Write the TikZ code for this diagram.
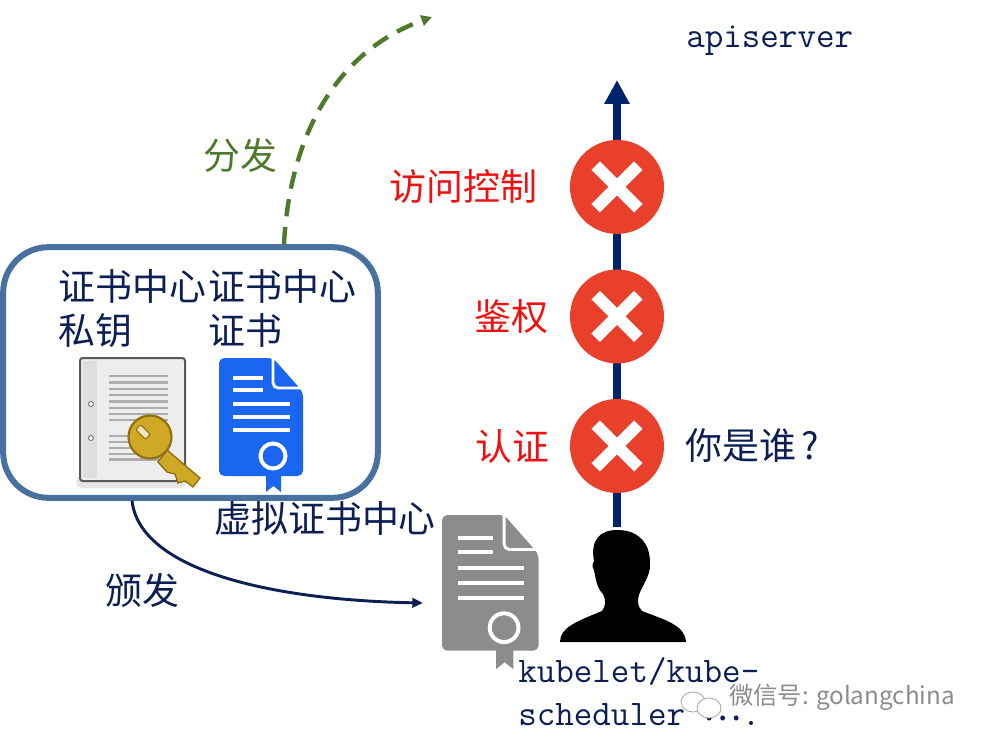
\documentclass[tikz,border=0pt]{standalone}
\usepackage{fontspec}
\usepackage{xcolor}
\usetikzlibrary{arrows.meta,positioning,calc,backgrounds}
\newfontfamily\cjk{Noto Sans CJK SC}
\definecolor{cNavy}{HTML}{0B1F55}
\definecolor{cLine}{HTML}{00246B}
\definecolor{cRed}{HTML}{E8402B}
\definecolor{cLabel}{HTML}{F01010}
\definecolor{cGreen}{HTML}{4F7A2C}
\definecolor{cFrame}{HTML}{48719F}
\definecolor{cBlue}{HTML}{1A66F0}
\definecolor{cGray}{HTML}{8C8C8C}
\definecolor{cGold}{HTML}{CFA825}
\definecolor{cGoldD}{HTML}{8F6E12}
\tikzset{
  cntext/.style={inner sep=0pt,text=cNavy,align=left,
              font=\cjk\fontsize{27.7}{33}\selectfont},
  alarm/.style={cntext,text=cLabel},
  latin/.style={inner sep=0pt,text=cNavy,align=left,
              font=\ttfamily\fontsize{27}{32.5}\selectfont},
  caframe/.style={draw=cFrame,line width=4.5pt,rounded corners=34pt,
              minimum width=281pt,minimum height=188pt,inner sep=0pt},
  slot/.style={inner sep=0pt,minimum width=#1},
  badge/.style={circle,fill=cRed,inner sep=0pt,minimum size=70.5pt,
    path picture={
      \draw[white,line width=9pt]
        ($(path picture bounding box.center)+(-16pt,-16pt)$)--
        ($(path picture bounding box.center)+(16pt,16pt)$)
        ($(path picture bounding box.center)+(-16pt,16pt)$)--
        ($(path picture bounding box.center)+(16pt,-16pt)$);}},
  mainarrow/.style={-{Triangle[length=18pt,width=18pt]},line width=6pt,cLine},
  sendarrow/.style={-{Triangle[length=8pt,width=8pt]},line width=3.3pt,cGreen,
              dash pattern=on 13pt off 8pt},
  issuearrow/.style={-{Triangle[length=8pt,width=7pt]},line width=2.2pt,cNavy},
  pics/certdoc/.style={code={
    \fill[#1,rounded corners=4pt] (0,0)--(54,0)--(84,34)--(84,118)--(0,118)--cycle;
    \draw[white,line width=2.2pt,rounded corners=4pt] (54,-1)--(54,30)--(85,30);
    \draw[white,line width=3pt] (14,20)--(44,20) (14,32)--(44,32)
      (14,46)--(71,46) (14,59)--(71,59) (14,72)--(71,72);
    \fill[#1] (47,100)--(47,134)--(54.5,128)--(62,134)--(62,100)--cycle;
    \draw[white,line width=3pt,fill=#1] (54,98) circle (12.5);
  }},
  pics/keydoc/.style={code={
    \fill[black!10,rounded corners=4pt] (-4,118) rectangle (106,130);
    \fill[black!7] (0,0) rectangle (105,123);
    \fill[black!13] (3,3) rectangle (17,120);
    \draw[black!65,line width=1.5pt,rounded corners=2pt] (0,0) rectangle (105,123);
    \foreach \ty in {18,24.5,31,37,43.5,50,56,62,78,84,90,96,101.5}
      \draw[black!32,line width=1.6pt] (29,\ty)--(88,\ty);
    \foreach \ty in {46,80}
      \draw[black!55,fill=white,line width=.7pt] (11,\ty) circle (2.5);
    \fill[cGold,draw=cGoldD,line width=1pt] (87,92)--(120,120)--(113,129)--(105,123)
      --(98,125)--(95,116)--(87,114)--(78,104)--cycle;
    \fill[cGold,draw=cGoldD,line width=1.6pt] (70,79) circle (21.5);
    \fill[white!70!cGold,draw=cGoldD,line width=.8pt,rounded corners=1.5pt,
      rotate around={-45:(63,74)}] (56,70.5) rectangle (70,77.5);
  }},
}
\begin{document}
\begin{tikzpicture}[x=.75pt,y=-.75pt]
  \useasboundingbox (0,0) rectangle (986,742);
  \node[caframe] (caframe) at (190.5,372.5) {};
  \node[cntext,anchor=north west] (cakey) at (58,269) {证书中心\\私钥};
  \node[cntext,anchor=north west] (cacert) at (208,269) {证书中心\\证书};
  \node[slot=78.75pt,minimum height=92pt] (keydoc) at (132,420) {};
  \pic at (80,358) {keydoc};
  \node[slot=63pt,minimum height=88.5pt] (certblue) at (261,417) {};
  \pic at (219,358) {certdoc=cBlue};
  \node[cntext,anchor=west] (vcalabel) at (214,518) {虚拟证书中心};
  \node[slot=72pt,minimum height=103pt] (certgray) at (490,583) {};
  \pic[scale=1.15] at (442,515) {certdoc=cGray};
  \node[cntext,anchor=west] (issuelabel) at (105,590) {颁发};
  \node[cntext,text=cGreen,anchor=west] (sendlabel) at (203,155) {分发};

  \node[badge] (authn) at (617,446) {};
  \node[badge,above=26.25pt of authn] (authz) {};
  \node[badge,above=26.25pt of authz] (access) {};
  \node[alarm,left=15pt of authn] (authnlabel) {认证};
  \node[alarm,left=16pt of authz] (authzlabel) {鉴权};
  \node[alarm,left=24pt of access] (accesslabel) {访问控制};
  \node[cntext,right=16pt of authn] (whoami) {你是谁\kern4pt?};
  \node[latin,anchor=west] (apiserver) at (686,41) {apiserver};
  \node[slot=94pt,minimum height=84pt] (user) at (623,586) {};
  \fill[black] (560,642) .. controls (560,628) and (575,622) .. (602,611)
    .. controls (606,606) and (606,600) .. (603,594)
    .. controls (597,588) and (596,580) .. (594,570)
    .. controls (591,566) and (593,563) .. (594,561)
    .. controls (590,540) and (600,530) .. (617,530)
    .. controls (636,530) and (646,540) .. (649,553)
    .. controls (650,558) and (650,562) .. (650,566)
    .. controls (650,574) and (644,584) .. (640,592)
    .. controls (637,600) and (637,606) .. (642,611)
    .. controls (665,620) and (685,625) .. (686,642) -- cycle;
  \node[latin,anchor=north west] (client) at (518,657)
    {kubelet/kube-\\scheduler {\cjk\raisebox{3.5pt}{…}}.};

  \coordinate (apitop) at (617,80);
  \coordinate (sendout) at (432,17);
  \coordinate (certin) at (423,603);
  \begin{scope}[on background layer]
    \draw[mainarrow] (617,527) -- (apitop);
  \end{scope}
  \draw[sendarrow] (caframe.north -| 284,0) .. controls (290,130) and (340,50) .. (sendout);
  \draw[issuearrow] (caframe.south -| keydoc.south) .. controls (140,570) and (270,600) .. (certin);

  \fill[white,draw=black!35,line width=.6pt] (693,702) ellipse (12 and 10);
  \fill[white,draw=black!35,line width=.6pt] (709,708) ellipse (12 and 10);
  \node[inner sep=0pt,text=black!45,anchor=west,
    font=\fontspec{Noto Sans CJK SC}\fontsize{18.2}{20}\selectfont] (mark) at (729,697) {微信号: golangchina};
\end{tikzpicture}
\end{document}
